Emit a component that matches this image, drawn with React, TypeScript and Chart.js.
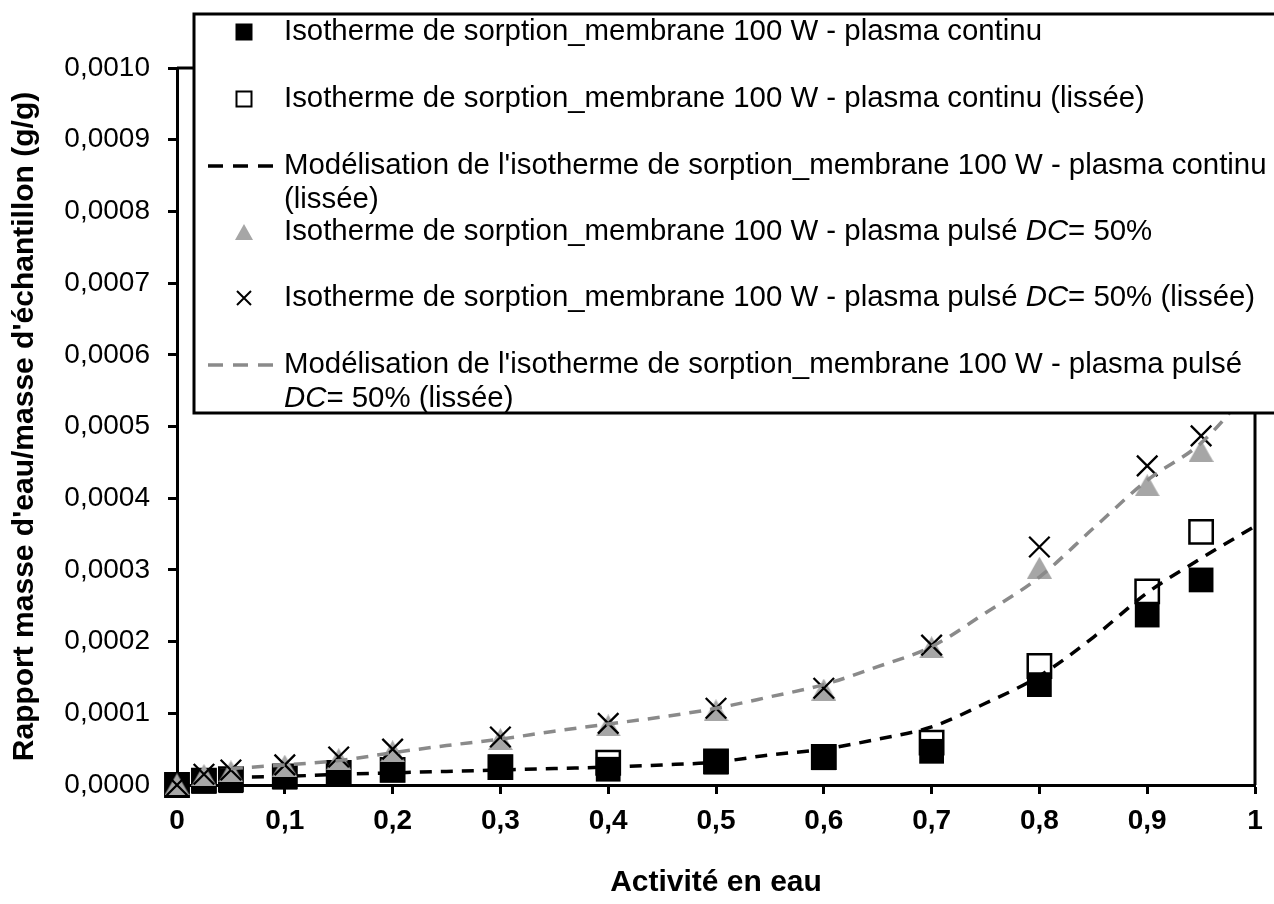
import React, { useEffect, useRef } from "react";
import { Chart, registerables } from "chart.js";

Chart.register(...registerables);

// ---------- data ----------
const ACTIVITY = [0, 0.025, 0.05, 0.1, 0.15, 0.2, 0.3, 0.4, 0.5, 0.6, 0.7, 0.8, 0.9, 0.95];

const CONTINU = [0, 0.000005, 0.000006, 0.000011, 0.000017, 0.000021, 0.000025, 0.000022, 0.000032, 0.000038, 0.000047, 0.00014, 0.000237, 0.000286];
const CONTINU_LISSEE = [0, 0.000006, 0.000008, 0.000012, 0.000017, 0.000021, 0.000025, 0.000031, 0.000033, 0.000039, 0.000059, 0.000166, 0.00027, 0.000353];
const PULSE = [0.000001, 0.000014, 0.000019, 0.000027, 0.000036, 0.000047, 0.000064, 0.000083, 0.000104, 0.000133, 0.000192, 0.000303, 0.000418, 0.000466];
const PULSE_LISSEE = [0, 0.000015, 0.000021, 0.000028, 0.000039, 0.00005, 0.000067, 0.000086, 0.000107, 0.000135, 0.000195, 0.000332, 0.000445, 0.000487];

const MODEL_ACTIVITY = [0.05, 0.1, 0.15, 0.2, 0.25, 0.3, 0.35, 0.4, 0.45, 0.5, 0.55, 0.6, 0.65, 0.7, 0.75, 0.8, 0.85, 0.9, 0.95, 1];
const MODEL_CONTINU = [0.000011, 0.000012, 0.000015, 0.000017, 0.000019, 0.000021, 0.000023, 0.000025, 0.000028, 0.000032, 0.000042, 0.00005, 0.000064, 0.000081, 0.000114, 0.000152, 0.000206, 0.000268, 0.000316, 0.000361];
const MODEL_PULSE = [0.000023, 0.000028, 0.000034, 0.000045, 0.000055, 0.000064, 0.000075, 0.000085, 0.000095, 0.000107, 0.000123, 0.00014, 0.000165, 0.000193, 0.00024, 0.00029, 0.000358, 0.000425, 0.000477, 0.00056];

const X_TICK_LABELS = ["0", "0,1", "0,2", "0,3", "0,4", "0,5", "0,6", "0,7", "0,8", "0,9", "1"];
const Y_TICK_LABELS = ["0,0000", "0,0001", "0,0002", "0,0003", "0,0004", "0,0005", "0,0006", "0,0007", "0,0008", "0,0009", "0,0010"];

const SERIES_LABELS = [
  "Isotherme de sorption_membrane 100 W - plasma continu",
  "Isotherme de sorption_membrane 100 W - plasma continu (lissée)",
  "Modélisation de l'isotherme de sorption_membrane 100 W - plasma continu\n(lissée)",
  "Isotherme de sorption_membrane 100 W - plasma pulsé DC= 50%",
  "Isotherme de sorption_membrane 100 W - plasma pulsé DC= 50% (lissée)",
  "Modélisation de l'isotherme de sorption_membrane 100 W - plasma pulsé\nDC= 50% (lissée)",
];

const X_TITLE = "Activité en eau";
const Y_TITLE = "Rapport masse d'eau/masse d'échantillon (g/g)";

// ---------- styles ----------
const FAMILY = "'Liberation Sans', Arial, sans-serif";
const W = 1274;
const H = 904;
const AREA = { left: 177, top: 68, right: 1257, bottom: 785 };
const GRAY_LINE = "#8a8a8a";
const GRAY_TRI = "#a6a6a6";
const LEGEND = { left: 194, top: 14, bottom: 413, textX: 284, symX: 244, font: 29.4, lineGap: 34 };
const LEGEND_ROWS = [32, 99, 166, 232, 298, 365];

function makeTriangle(w: number, h: number, color: string) {
  const c = document.createElement("canvas");
  c.width = w;
  c.height = h;
  const ctx = c.getContext("2d")!;
  ctx.fillStyle = color;
  ctx.beginPath();
  ctx.moveTo(w / 2, 0);
  ctx.lineTo(w, h);
  ctx.lineTo(0, h);
  ctx.closePath();
  ctx.fill();
  return c;
}

function drawRich(ctx: CanvasRenderingContext2D, text: string, x: number, y: number) {
  const parts = text.split(/(DC)/);
  let cx = x;
  for (const p of parts) {
    if (!p) continue;
    ctx.font = p === "DC" ? `italic ${LEGEND.font}px ${FAMILY}` : `${LEGEND.font}px ${FAMILY}`;
    ctx.fillText(p, cx, y);
    cx += ctx.measureText(p).width;
  }
}

function drawSymbol(ctx: CanvasRenderingContext2D, kind: number, y: number) {
  const x = LEGEND.symX;
  ctx.save();
  ctx.setLineDash([]);
  if (kind === 0) {
    ctx.fillStyle = "#000";
    ctx.fillRect(x - 8.5, y - 8.5, 17, 17);
  } else if (kind === 1) {
    ctx.strokeStyle = "#000";
    ctx.lineWidth = 2;
    ctx.strokeRect(x - 7.5, y - 7.5, 15, 15);
  } else if (kind === 2 || kind === 5) {
    ctx.strokeStyle = kind === 2 ? "#000" : GRAY_LINE;
    ctx.lineWidth = 3.5;
    ctx.setLineDash([15, 10]);
    ctx.beginPath();
    ctx.moveTo(208, y);
    ctx.lineTo(280, y);
    ctx.stroke();
  } else if (kind === 3) {
    ctx.fillStyle = GRAY_TRI;
    ctx.beginPath();
    ctx.moveTo(x, y - 8);
    ctx.lineTo(x + 9, y + 8);
    ctx.lineTo(x - 9, y + 8);
    ctx.closePath();
    ctx.fill();
  } else if (kind === 4) {
    ctx.strokeStyle = "#000";
    ctx.lineWidth = 2;
    ctx.beginPath();
    ctx.moveTo(x - 7, y - 7);
    ctx.lineTo(x + 7, y + 7);
    ctx.moveTo(x + 7, y - 7);
    ctx.lineTo(x - 7, y + 7);
    ctx.stroke();
  }
  ctx.restore();
}

const framePlugin = {
  id: "frameBox",
  beforeDatasetsDraw(chart: any) {
    const { ctx, chartArea } = chart;
    ctx.save();
    ctx.strokeStyle = "#000";
    ctx.lineWidth = 3;
    ctx.beginPath();
    ctx.moveTo(chartArea.left, chartArea.top);
    ctx.lineTo(chartArea.right, chartArea.top);
    ctx.lineTo(chartArea.right, chartArea.bottom);
    ctx.stroke();
    ctx.restore();
  },
};

const legendPlugin = {
  id: "customLegend",
  afterDraw(chart: any) {
    const ctx: CanvasRenderingContext2D = chart.ctx;
    ctx.save();
    ctx.fillStyle = "#fff";
    ctx.fillRect(LEGEND.left, LEGEND.top, W - LEGEND.left + 10, LEGEND.bottom - LEGEND.top);
    ctx.strokeStyle = "#000";
    ctx.lineWidth = 3;
    ctx.strokeRect(LEGEND.left, LEGEND.top, W - LEGEND.left + 20, LEGEND.bottom - LEGEND.top);
    ctx.fillStyle = "#000";
    ctx.textBaseline = "middle";
    ctx.textAlign = "left";
    SERIES_LABELS.forEach((label, i) => {
      const y0 = LEGEND_ROWS[i];
      drawSymbol(ctx, i, y0);
      ctx.fillStyle = "#000";
      label.split("\n").forEach((line, k) => drawRich(ctx, line, LEGEND.textX, y0 + k * LEGEND.lineGap));
    });
    ctx.restore();
  },
};

export default function App() {
  const ref = useRef<HTMLCanvasElement | null>(null);

  useEffect(() => {
    if (!ref.current) return;
    const tri = makeTriangle(25, 22, GRAY_TRI);
    const pts = (xs: number[], ys: number[]) => xs.map((x, i) => ({ x, y: ys[i] }));

    const chart = new Chart(ref.current, {
      type: "scatter",
      data: {
        datasets: [
          {
            label: SERIES_LABELS[0],
            data: pts(ACTIVITY, CONTINU),
            pointStyle: "rect",
            pointRadius: 17.5,
            backgroundColor: "#000",
            borderColor: "#000",
            borderWidth: 0,
            showLine: false,
            clip: false,
            order: 6,
          },
          {
            label: SERIES_LABELS[1],
            data: pts(ACTIVITY, CONTINU_LISSEE),
            pointStyle: "rect",
            pointRadius: 16.5,
            backgroundColor: "rgba(0,0,0,0)",
            borderColor: "#000",
            borderWidth: 2.5,
            showLine: false,
            clip: false,
            order: 5,
          },
          {
            label: SERIES_LABELS[2],
            data: pts(MODEL_ACTIVITY, MODEL_CONTINU),
            showLine: true,
            pointRadius: 0,
            borderColor: "#000",
            backgroundColor: "#000",
            borderWidth: 3.5,
            borderDash: [12, 9],
            cubicInterpolationMode: "monotone",
            fill: false,
            clip: false,
            order: 4,
          },
          {
            label: SERIES_LABELS[3],
            data: pts(ACTIVITY, PULSE),
            pointStyle: tri,
            pointRadius: 12,
            backgroundColor: GRAY_TRI,
            borderColor: GRAY_TRI,
            showLine: false,
            clip: false,
            order: 3,
          },
          {
            label: SERIES_LABELS[4],
            data: pts(ACTIVITY, PULSE_LISSEE),
            pointStyle: "crossRot",
            pointRadius: 14.5,
            borderColor: "#000",
            backgroundColor: "#000",
            borderWidth: 2.3,
            showLine: false,
            clip: false,
            order: 2,
          },
          {
            label: SERIES_LABELS[5],
            data: pts(MODEL_ACTIVITY, MODEL_PULSE),
            showLine: true,
            pointRadius: 0,
            borderColor: GRAY_LINE,
            backgroundColor: GRAY_LINE,
            borderWidth: 3.5,
            borderDash: [12, 9],
            cubicInterpolationMode: "monotone",
            fill: false,
            clip: false,
            order: 1,
          },
        ],
      },
      options: {
        responsive: false,
        maintainAspectRatio: false,
        devicePixelRatio: 1,
        animation: false,
        events: [],
        layout: { padding: { left: 0, top: AREA.top, right: W - AREA.right, bottom: 0 } },
        plugins: { legend: { display: false }, tooltip: { enabled: false }, title: { display: false } },
        scales: {
          x: {
            type: "linear",
            min: 0,
            max: 1,
            afterFit: (s: any) => {
              s.height = H - AREA.bottom;
            },
            ticks: {
              stepSize: 0.1,
              color: "#000",
              padding: 10,
              maxRotation: 0,
              autoSkip: false,
              font: { family: FAMILY, size: 28, weight: "bold" },
              callback: (_v: any, i: number) => X_TICK_LABELS[i],
            },
            grid: { display: true, drawOnChartArea: false, drawTicks: true, tickLength: 9, tickWidth: 3, tickColor: "#000" },
            border: { display: true, color: "#000", width: 3 },
            title: {
              display: true,
              text: X_TITLE,
              color: "#000",
              font: { family: FAMILY, size: 30, weight: "bold" },
              padding: { top: 0, bottom: 3 },
            },
          },
          y: {
            type: "linear",
            min: 0,
            max: 0.001,
            afterFit: (s: any) => {
              s.width = AREA.left;
            },
            ticks: {
              stepSize: 0.0001,
              color: "#000",
              padding: 18,
              autoSkip: false,
              font: { family: FAMILY, size: 28 },
              callback: (_v: any, i: number) => Y_TICK_LABELS[i],
            },
            grid: { display: true, drawOnChartArea: false, drawTicks: true, tickLength: 9, tickWidth: 3, tickColor: "#000" },
            border: { display: true, color: "#000", width: 3 },
            title: {
              display: true,
              text: Y_TITLE,
              color: "#000",
              font: { family: FAMILY, size: 30, weight: "bold" },
              padding: { top: 7, bottom: 0 },
            },
          },
        },
      } as any,
      plugins: [framePlugin, legendPlugin],
    });
    return () => chart.destroy();
  }, []);

  return (
    <div style={{ position: "absolute", left: 0, top: 0, width: W, height: H, background: "#fff" }}>
      <canvas ref={ref} width={W} height={H} style={{ display: "block", width: W, height: H }} />
    </div>
  );
}
